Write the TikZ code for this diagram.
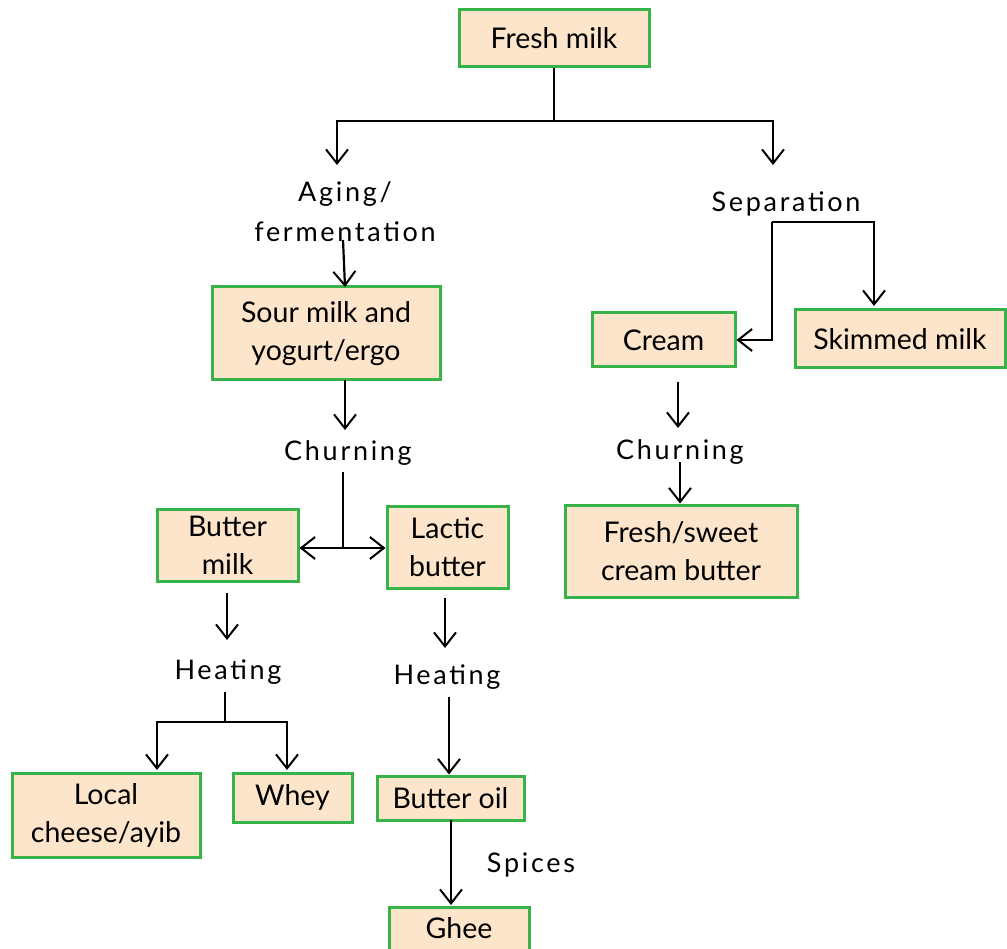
\documentclass[tikz,border=0pt]{standalone}
\usepackage{fontspec}
\setmainfont{Lato}
\newfontfamily\spc[LetterSpace=10]{Lato}
\usetikzlibrary{arrows.meta}
\definecolor{boxfill}{HTML}{FDE5CB}
\definecolor{boxline}{HTML}{38B34A}
\begin{document}
\begin{tikzpicture}[x=1pt,y=-1pt,
  box/.style={draw=boxline, fill=boxfill, line width=3pt, inner sep=0pt, align=center,
    font=\fontsize{28.5}{38}\selectfont},
  lbl/.style={font=\spc\fontsize{27}{40}\selectfont, inner sep=2pt, align=center},
  arr/.style={-{Straight Barb[length=14pt,width=22pt,line width=2pt]}, line width=2.2pt},
  ln/.style={line width=2.2pt}]
\useasboundingbox (0,0) rectangle (1007,949);
% boxes
\node[box, minimum width=190pt, minimum height=57pt] (fresh) at (554,38.5) {Fresh milk};
\node[box, minimum width=228pt, minimum height=93pt] (sour) at (326,333.5) {Sour milk and\\yogurt/ergo};
\node[box, minimum width=141pt, minimum height=72pt] (bmilk) at (227.5,545) {Butter\\milk};
\node[box, minimum width=121pt, minimum height=82pt] (lbutter) at (447.5,547) {Lactic\\butter};
\node[box, minimum width=188pt, minimum height=84pt] (cheese) at (106,815) {Local\\cheese/ayib};
\node[box, minimum width=119pt, minimum height=49pt] (whey) at (292.5,797.5) {Whey};
\node[box, minimum width=147pt, minimum height=44pt] (boil) at (450.5,798) {Butter oil};
\node[box, minimum width=140pt, minimum height=43pt] (ghee) at (459,928.5) {Ghee};
\node[box, minimum width=143pt, minimum height=54pt] (cream) at (663.5,340) {Cream};
\node[box, minimum width=210pt, minimum height=58pt] (skim) at (900,339) {Skimmed milk};
\node[box, minimum width=232pt, minimum height=92pt] (fsb) at (681,551) {Fresh/sweet\\cream butter};
% labels
\node[lbl] (aging) at (345,212) {Aging/\\fermentation};
\node[lbl] (sep) at (786,204) {Separation};
\node[lbl] (churn1) at (348,453) {Churning};
\node[lbl] (churn2) at (680,452) {Churning};
\node[lbl] (heat1) at (228,672) {Heating};
\node[lbl] (heat2) at (447,677) {Heating};
\node[lbl] (spices) at (531,865) {Spices};
% coordinates
\coordinate (t1) at (554,121);
\coordinate (al) at (337,165);
\coordinate (ar) at (773,165);
\coordinate (aa) at (343,240);
\coordinate (ab) at (345,287);
\coordinate (c1a) at (345,380);
\coordinate (c1b) at (345,430);
\coordinate (c1c) at (343,472);
\coordinate (c1d) at (343,548);
\coordinate (s1) at (772,222);
\coordinate (s2) at (874,222);
\coordinate (s3) at (874,306);
\coordinate (c2a) at (678,382);
\coordinate (c2b) at (678,428);
\coordinate (c2c) at (680,462);
\coordinate (h1a) at (227,593);
\coordinate (h1b) at (227,640);
\coordinate (h1c) at (225,692);
\coordinate (h1d) at (225,722);
\coordinate (h1l) at (157,770);
\coordinate (h1r) at (287,770);
\coordinate (h2a) at (445,598);
\coordinate (h2b) at (445,648);
\coordinate (h2c) at (449,697);
\coordinate (g1) at (451,820);
\coordinate (g2) at (451,905);
% connectors
\draw[ln] (fresh.south) -- (t1);
\draw[arr] (t1) -| (al);
\draw[arr] (t1) -| (ar);
\draw[arr] (aa) -- (ab);
\draw[arr] (c1a) -- (c1b);
\draw[ln] (c1c) -- (c1d);
\draw[arr] (c1d) -- (c1d -| bmilk.east);
\draw[arr] (c1d) -- (c1d -| lbutter.west);
\draw[arr] (s1) -- (s2) -- (s3);
\draw[arr] (s1) |- (cream.east);
\draw[arr] (c2a) -- (c2b);
\draw[arr] (c2c) -- (c2c |- fsb.north);
\draw[arr] (h1a) -- (h1b);
\draw[ln] (h1c) -- (h1d);
\draw[arr] (h1d) -| (h1l);
\draw[arr] (h1d) -| (h1r);
\draw[arr] (h2a) -- (h2b);
\draw[arr] (h2c) -- (h2c |- boil.north);
\draw[arr] (g1) -- (g2);
\end{tikzpicture}
\end{document}
